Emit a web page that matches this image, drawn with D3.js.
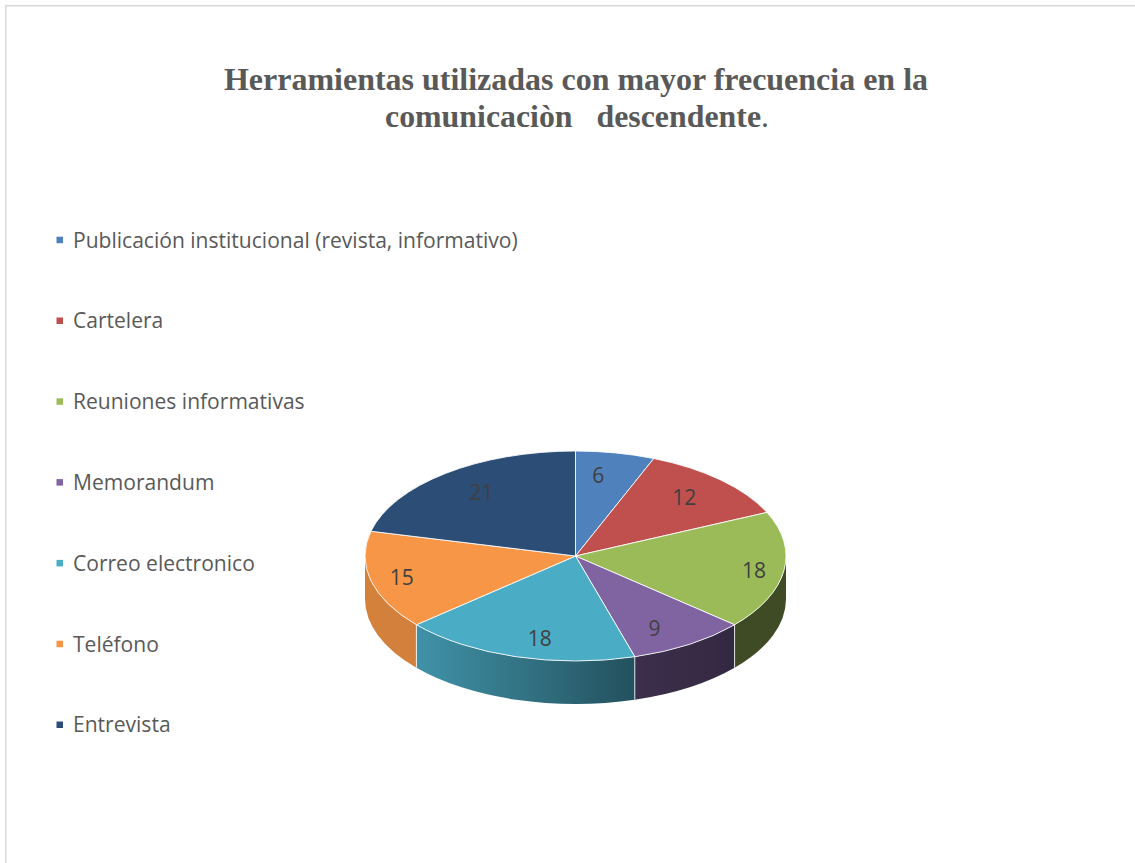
<!DOCTYPE html>
<html>
<head>
<meta charset="utf-8">
<script src="https://cdn.jsdelivr.net/npm/d3@7/dist/d3.min.js"></script>
<style>
  html, body { margin: 0; padding: 0; background: #ffffff; }
  svg { display: block; }
</style>
</head>
<body>
<svg id="chart" width="1135" height="863"></svg>
<script>
// Chart data
const titleLines = ["Herramientas utilizadas con mayor frecuencia en la", "comunicaciòn   descendente"];
const categories = [
  "Publicación institucional (revista, informativo)",
  "Cartelera",
  "Reuniones informativas",
  "Memorandum",
  "Correo electronico",
  "Teléfono",
  "Entrevista"
];
const values = [6, 12, 18, 9, 18, 15, 21];
const colors = ["#4F81BD", "#C0504D", "#9BBB59", "#8064A2", "#4BACC6", "#F79646", "#2C4D75"];

const svg = d3.select("#chart");
const W = 1135, H = 863;

svg.append("rect").attr("x", 0).attr("y", 0).attr("width", W).attr("height", H).attr("fill", "#fff");

// frame
svg.append("rect")
  .attr("x", 5.75).attr("y", 5.75)
  .attr("width", W + 20).attr("height", H + 20)
  .attr("fill", "none").attr("stroke", "#D9D9D9").attr("stroke-width", 1.5);

// Title
const title = svg.append("g").attr("fill", "#595959")
  .attr("font-family", "'Liberation Serif', 'Times New Roman', serif")
  .attr("font-weight", "bold").attr("font-size", 32)
  .attr("text-anchor", "middle");
title.append("text").attr("x", 576).attr("y", 90)
  .attr("textLength", 704).attr("lengthAdjust", "spacingAndGlyphs")
  .text(titleLines[0]);
const t2 = title.append("text").attr("x", 577).attr("y", 127)
  .style("white-space", "pre")
  .attr("textLength", 384).attr("lengthAdjust", "spacingAndGlyphs");
t2.append("tspan").text(titleLines[1]);
t2.append("tspan").attr("font-weight", "normal").text(".");

// Legend
const textFont = "'Open Sans', 'Noto Sans', sans-serif";
const legend = svg.append("g");
const legendBase = d3.scalePoint().domain(categories).range([247.5, 732.3]);
const items = legend.selectAll("g").data(categories).join("g")
  .attr("transform", d => `translate(0,${legendBase(d)})`);
items.append("rect")
  .attr("x", 56.5).attr("y", -10.8).attr("width", 6.5).attr("height", 6.5)
  .attr("fill", (d, i) => colors[i]);
const legendText = items.append("text")
  .attr("x", 73).attr("y", 0)
  .attr("font-family", textFont).attr("font-size", 19)
  .attr("fill", "#595959")
  .text(d => d);
// size the legend font so the longest entry spans its column
const widest = d3.max(legendText.nodes(), n => n.getComputedTextLength());
legendText.attr("font-size", 19 * 445 / widest);

// 3D pie geometry
const cx = 575.5, cy = 556, rx = 210.5, ry = 105, depth = 43;
const pie = d3.pie().sort(null).value(d => d);
const arcs = pie(values);

const px = a => cx + rx * Math.sin(a);
const py = a => cy - ry * Math.cos(a);

// side shading along the horizontal extent (-1 left .. 1 right)
const shade = d3.scaleLinear().domain([-1, -0.76, 0.29, 0.76, 1]).range([0.86, 0.85, 0.47, 0.4, 0.4]).clamp(true);
const darken = (c, k) => { const r = d3.rgb(c); return d3.rgb(r.r * k, r.g * k, r.b * k).formatHex(); };

const defs = svg.append("defs");
const sides = svg.append("g");
const tops = svg.append("g");

const half = Math.PI / 2, threeHalf = 3 * Math.PI / 2;
arcs.forEach((d, i) => {
  const s0 = Math.max(d.startAngle, half), s1 = Math.min(d.endAngle, threeHalf);
  if (s1 <= s0) return;
  const xa = px(s0), xb = px(s1);
  const gid = "side" + i;
  const g = defs.append("linearGradient").attr("id", gid)
    .attr("gradientUnits", "userSpaceOnUse")
    .attr("x1", Math.min(xa, xb)).attr("x2", Math.max(xa, xb)).attr("y1", 0).attr("y2", 0);
  const n = 8;
  for (let k = 0; k <= n; k++) {
    const x = Math.min(xa, xb) + (Math.abs(xb - xa)) * k / n;
    g.append("stop").attr("offset", k / n).attr("stop-color", darken(colors[i], shade((x - cx) / rx)));
  }
  const large = (s1 - s0) > Math.PI ? 1 : 0;
  const path = `M${px(s0)},${py(s0)} A${rx},${ry} 0 ${large} 1 ${px(s1)},${py(s1)} ` +
    `L${px(s1)},${py(s1) + depth} A${rx},${ry} 0 ${large} 0 ${px(s0)},${py(s0) + depth} Z`;
  sides.append("path").attr("d", path).attr("fill", `url(#${gid})`);
});

// vertical edges where slices meet on the visible side
arcs.forEach(d => {
  const a = d.startAngle;
  if (a > half && a < threeHalf) {
    sides.append("line")
      .attr("x1", px(a)).attr("x2", px(a))
      .attr("y1", py(a)).attr("y2", py(a) + depth)
      .attr("stroke", "#ffffff").attr("stroke-opacity", 0.8).attr("stroke-width", 1);
  }
});

// top faces
arcs.forEach((d, i) => {
  const a0 = d.startAngle, a1 = d.endAngle;
  const large = (a1 - a0) > Math.PI ? 1 : 0;
  const path = `M${cx},${cy} L${px(a0)},${py(a0)} A${rx},${ry} 0 ${large} 1 ${px(a1)},${py(a1)} Z`;
  tops.append("path").attr("d", path)
    .attr("fill", colors[i])
    .attr("stroke", "#ffffff").attr("stroke-opacity", 0.85).attr("stroke-width", 1)
    .attr("stroke-linejoin", "round");
});

// value labels: along each slice's mid angle, drawn in toward the centre line near the top and bottom
const mid = d => (d.startAngle + d.endAngle) / 2;
const labelX = m => cx + rx * (0.5 + 0.36 * Math.abs(Math.sin(m))) * Math.sin(m);
const labelY = m => cy - ry * 0.8 * Math.cos(m) + 2;
svg.append("g").selectAll("text").data(arcs).join("text")
  .attr("x", d => labelX(mid(d)))
  .attr("y", d => labelY(mid(d)))
  .attr("dy", "0.36em")
  .attr("text-anchor", "middle")
  .attr("font-family", textFont).attr("font-size", 21)
  .attr("fill", "#404040")
  .text(d => d.data);
</script>
</body>
</html>
